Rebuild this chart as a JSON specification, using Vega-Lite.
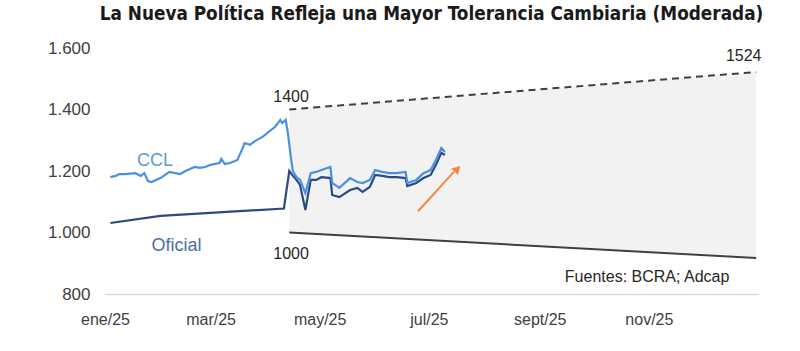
{
  "$schema": "https://vega.github.io/schema/vega-lite/v6.json",
  "autosize": "none",
  "width": 653,
  "height": 246,
  "padding": {"left": 105, "top": 48, "right": 42, "bottom": 57},
  "background": "white",
  "config": {
    "view": {"stroke": null},
    "locale": {"number": {"decimal": ",", "thousands": ".", "grouping": [3], "currency": ["$", ""]}},
    "font": "Liberation Sans"
  },
  "title": {
    "text": "La Nueva Política Refleja una Mayor Tolerancia Cambiaria (Moderada)",
    "font": "Liberation Sans Narrow, DejaVu Sans Condensed, sans-serif",
    "fontSize": 18.8,
    "fontWeight": "bold",
    "color": "#1a1a1a",
    "anchor": "middle",
    "offset": 15
  },
  "datasets": {
    "series": [
      {"date": "2025-01-04", "serie": "Oficial", "valor": 1031},
      {"date": "2025-02-01", "serie": "Oficial", "valor": 1054},
      {"date": "2025-04-11", "serie": "Oficial", "valor": 1078},
      {"date": "2025-04-14", "serie": "Oficial", "valor": 1200},
      {"date": "2025-04-16", "serie": "Oficial", "valor": 1185},
      {"date": "2025-04-18", "serie": "Oficial", "valor": 1171},
      {"date": "2025-04-20", "serie": "Oficial", "valor": 1155},
      {"date": "2025-04-23", "serie": "Oficial", "valor": 1073},
      {"date": "2025-04-26", "serie": "Oficial", "valor": 1171},
      {"date": "2025-04-29", "serie": "Oficial", "valor": 1171},
      {"date": "2025-05-02", "serie": "Oficial", "valor": 1180},
      {"date": "2025-05-07", "serie": "Oficial", "valor": 1177},
      {"date": "2025-05-08", "serie": "Oficial", "valor": 1122},
      {"date": "2025-05-12", "serie": "Oficial", "valor": 1115},
      {"date": "2025-05-18", "serie": "Oficial", "valor": 1138},
      {"date": "2025-05-22", "serie": "Oficial", "valor": 1145},
      {"date": "2025-05-25", "serie": "Oficial", "valor": 1132},
      {"date": "2025-05-29", "serie": "Oficial", "valor": 1148},
      {"date": "2025-06-01", "serie": "Oficial", "valor": 1187},
      {"date": "2025-06-05", "serie": "Oficial", "valor": 1184},
      {"date": "2025-06-09", "serie": "Oficial", "valor": 1180},
      {"date": "2025-06-13", "serie": "Oficial", "valor": 1180},
      {"date": "2025-06-18", "serie": "Oficial", "valor": 1177},
      {"date": "2025-06-19", "serie": "Oficial", "valor": 1151},
      {"date": "2025-06-24", "serie": "Oficial", "valor": 1161},
      {"date": "2025-06-28", "serie": "Oficial", "valor": 1177},
      {"date": "2025-07-02", "serie": "Oficial", "valor": 1187},
      {"date": "2025-07-05", "serie": "Oficial", "valor": 1220},
      {"date": "2025-07-08", "serie": "Oficial", "valor": 1259},
      {"date": "2025-07-10", "serie": "Oficial", "valor": 1252},
      {"date": "2025-01-04", "serie": "CCL", "valor": 1180},
      {"date": "2025-01-07", "serie": "CCL", "valor": 1184},
      {"date": "2025-01-09", "serie": "CCL", "valor": 1190},
      {"date": "2025-01-12", "serie": "CCL", "valor": 1190},
      {"date": "2025-01-18", "serie": "CCL", "valor": 1193},
      {"date": "2025-01-21", "serie": "CCL", "valor": 1184},
      {"date": "2025-01-23", "serie": "CCL", "valor": 1193},
      {"date": "2025-01-25", "serie": "CCL", "valor": 1167},
      {"date": "2025-01-27", "serie": "CCL", "valor": 1164},
      {"date": "2025-02-01", "serie": "CCL", "valor": 1177},
      {"date": "2025-02-06", "serie": "CCL", "valor": 1197},
      {"date": "2025-02-12", "serie": "CCL", "valor": 1190},
      {"date": "2025-02-15", "serie": "CCL", "valor": 1200},
      {"date": "2025-02-20", "serie": "CCL", "valor": 1213},
      {"date": "2025-02-23", "serie": "CCL", "valor": 1210},
      {"date": "2025-02-26", "serie": "CCL", "valor": 1213},
      {"date": "2025-03-01", "serie": "CCL", "valor": 1220},
      {"date": "2025-03-06", "serie": "CCL", "valor": 1226},
      {"date": "2025-03-07", "serie": "CCL", "valor": 1239},
      {"date": "2025-03-09", "serie": "CCL", "valor": 1223},
      {"date": "2025-03-12", "serie": "CCL", "valor": 1226},
      {"date": "2025-03-16", "serie": "CCL", "valor": 1236},
      {"date": "2025-03-19", "serie": "CCL", "valor": 1275},
      {"date": "2025-03-20", "serie": "CCL", "valor": 1291},
      {"date": "2025-03-23", "serie": "CCL", "valor": 1285},
      {"date": "2025-03-26", "serie": "CCL", "valor": 1298},
      {"date": "2025-03-30", "serie": "CCL", "valor": 1311},
      {"date": "2025-04-01", "serie": "CCL", "valor": 1320},
      {"date": "2025-04-03", "serie": "CCL", "valor": 1330},
      {"date": "2025-04-06", "serie": "CCL", "valor": 1343},
      {"date": "2025-04-09", "serie": "CCL", "valor": 1366},
      {"date": "2025-04-10", "serie": "CCL", "valor": 1356},
      {"date": "2025-04-12", "serie": "CCL", "valor": 1366},
      {"date": "2025-04-13", "serie": "CCL", "valor": 1333},
      {"date": "2025-04-15", "serie": "CCL", "valor": 1240},
      {"date": "2025-04-16", "serie": "CCL", "valor": 1200},
      {"date": "2025-04-18", "serie": "CCL", "valor": 1180},
      {"date": "2025-04-20", "serie": "CCL", "valor": 1171},
      {"date": "2025-04-23", "serie": "CCL", "valor": 1128},
      {"date": "2025-04-26", "serie": "CCL", "valor": 1193},
      {"date": "2025-04-29", "serie": "CCL", "valor": 1197},
      {"date": "2025-05-02", "serie": "CCL", "valor": 1203},
      {"date": "2025-05-07", "serie": "CCL", "valor": 1213},
      {"date": "2025-05-08", "serie": "CCL", "valor": 1161},
      {"date": "2025-05-12", "serie": "CCL", "valor": 1145},
      {"date": "2025-05-18", "serie": "CCL", "valor": 1177},
      {"date": "2025-05-22", "serie": "CCL", "valor": 1164},
      {"date": "2025-05-25", "serie": "CCL", "valor": 1161},
      {"date": "2025-05-29", "serie": "CCL", "valor": 1171},
      {"date": "2025-06-01", "serie": "CCL", "valor": 1203},
      {"date": "2025-06-05", "serie": "CCL", "valor": 1197},
      {"date": "2025-06-09", "serie": "CCL", "valor": 1193},
      {"date": "2025-06-13", "serie": "CCL", "valor": 1193},
      {"date": "2025-06-18", "serie": "CCL", "valor": 1197},
      {"date": "2025-06-19", "serie": "CCL", "valor": 1161},
      {"date": "2025-06-24", "serie": "CCL", "valor": 1171},
      {"date": "2025-06-28", "serie": "CCL", "valor": 1193},
      {"date": "2025-07-02", "serie": "CCL", "valor": 1203},
      {"date": "2025-07-05", "serie": "CCL", "valor": 1236},
      {"date": "2025-07-08", "serie": "CCL", "valor": 1275},
      {"date": "2025-07-10", "serie": "CCL", "valor": 1262}
    ],
    "banda": [
      {"date": "2025-04-14", "piso": 1000, "techo": 1400},
      {"date": "2025-12-31", "piso": 917, "techo": 1522}
    ],
    "etiquetas": [
      {"date": "2025-04-15", "valor": 1442, "texto": "1400"},
      {"date": "2025-04-15", "valor": 931, "texto": "1000"},
      {"date": "2025-12-24", "valor": 1574, "texto": "1524"}
    ],
    "fuente": [
      {"date": "2025-10-31", "valor": 855, "texto": "Fuentes: BCRA; Adcap"}
    ],
    "nombres": [
      {"date": "2025-01-29", "valor": 1232, "texto": "CCL", "serie": "CCL"},
      {"date": "2025-02-10", "valor": 957, "texto": "Oficial", "serie": "Oficial"}
    ],
    "flecha": [
      {"date": "2025-06-25", "valor": 1069, "date2": "2025-07-15", "valor2": 1197}
    ],
    "punta": [
      {"date": "2025-07-17", "valor": 1207}
    ]
  },
  "layer": [
    {
      "data": {"name": "banda"},
      "mark": {"type": "area", "color": "#f2f2f2", "opacity": 1},
      "encoding": {
        "x": {
          "field": "date", "type": "temporal",
          "scale": {"domain": [{"year": 2025, "month": 1, "date": 1}, {"year": 2026, "month": 1, "date": 1}]},
          "axis": {
            "title": null,
            "values": [
              {"year": 2025, "month": 1, "date": 1},
              {"year": 2025, "month": 3, "date": 1},
              {"year": 2025, "month": 5, "date": 1},
              {"year": 2025, "month": 7, "date": 1},
              {"year": 2025, "month": 9, "date": 1},
              {"year": 2025, "month": 11, "date": 1}
            ],
            "labelExpr": "['ene','feb','mar','abr','may','jun','jul','ago','sept','oct','nov','dic'][month(datum.value)] + '/25'",
            "labelFlush": false,
            "ticks": false,
            "grid": false,
            "domainColor": "#d9d9d9",
            "domainWidth": 1.5,
            "labelFont": "Liberation Sans",
            "labelFontSize": 16,
            "labelColor": "#404040",
            "labelPadding": 17
          }
        },
        "y": {
          "field": "piso", "type": "quantitative",
          "scale": {"domain": [800, 1600], "nice": false, "zero": false},
          "axis": {
            "title": null,
            "values": [800, 1000, 1200, 1400, 1600],
            "format": ",d",
            "ticks": false,
            "grid": false,
            "domain": false,
            "labelFont": "Liberation Sans",
            "labelFontSize": 17,
            "labelColor": "#404040",
            "labelPadding": 15
          }
        },
        "y2": {"field": "techo"}
      }
    },
    {
      "data": {"name": "banda"},
      "mark": {"type": "line", "color": "#404040", "strokeWidth": 2, "strokeDash": [7, 5]},
      "encoding": {
        "x": {"field": "date", "type": "temporal"},
        "y": {"field": "techo", "type": "quantitative"}
      }
    },
    {
      "data": {"name": "banda"},
      "mark": {"type": "line", "color": "#404040", "strokeWidth": 2},
      "encoding": {
        "x": {"field": "date", "type": "temporal"},
        "y": {"field": "piso", "type": "quantitative"}
      }
    },
    {
      "data": {"name": "series"},
      "mark": {"type": "line", "strokeWidth": 2.2},
      "encoding": {
        "x": {"field": "date", "type": "temporal"},
        "y": {"field": "valor", "type": "quantitative"},
        "color": {
          "field": "serie", "type": "nominal",
          "scale": {"domain": ["Oficial", "CCL"], "range": ["#2b4a80", "#4a90e2"]},
          "legend": null
        },
        "order": {"field": "serie"}
      }
    },
    {
      "data": {"name": "flecha"},
      "mark": {"type": "rule", "color": "#f4883e", "strokeWidth": 2},
      "encoding": {
        "x": {"field": "date", "type": "temporal"},
        "y": {"field": "valor", "type": "quantitative"},
        "x2": {"field": "date2"},
        "y2": {"field": "valor2"}
      }
    },
    {
      "data": {"name": "punta"},
      "mark": {"type": "point", "shape": "triangle-up", "filled": true, "color": "#f4883e", "size": 90, "angle": 44, "opacity": 1},
      "encoding": {
        "x": {"field": "date", "type": "temporal"},
        "y": {"field": "valor", "type": "quantitative"}
      }
    },
    {
      "data": {"name": "etiquetas"},
      "mark": {"type": "text", "font": "Liberation Sans", "fontSize": 16, "color": "#262626", "align": "center", "baseline": "middle"},
      "encoding": {
        "x": {"field": "date", "type": "temporal"},
        "y": {"field": "valor", "type": "quantitative"},
        "text": {"field": "texto"}
      }
    },
    {
      "data": {"name": "fuente"},
      "mark": {"type": "text", "font": "Liberation Sans", "fontSize": 16, "color": "#262626", "align": "center", "baseline": "middle"},
      "encoding": {
        "x": {"field": "date", "type": "temporal"},
        "y": {"field": "valor", "type": "quantitative"},
        "text": {"field": "texto"}
      }
    },
    {
      "data": {"name": "nombres"},
      "mark": {"type": "text", "font": "Liberation Sans", "fontSize": 18, "align": "center", "baseline": "middle"},
      "encoding": {
        "x": {"field": "date", "type": "temporal"},
        "y": {"field": "valor", "type": "quantitative"},
        "text": {"field": "texto"},
        "color": {
          "field": "serie", "type": "nominal",
          "scale": {"domain": ["Oficial", "CCL"], "range": ["#4a6fa5", "#5b9bd5"]},
          "legend": null
        }
      }
    }
  ],
  "resolve": {"scale": {"color": "independent"}}
}
